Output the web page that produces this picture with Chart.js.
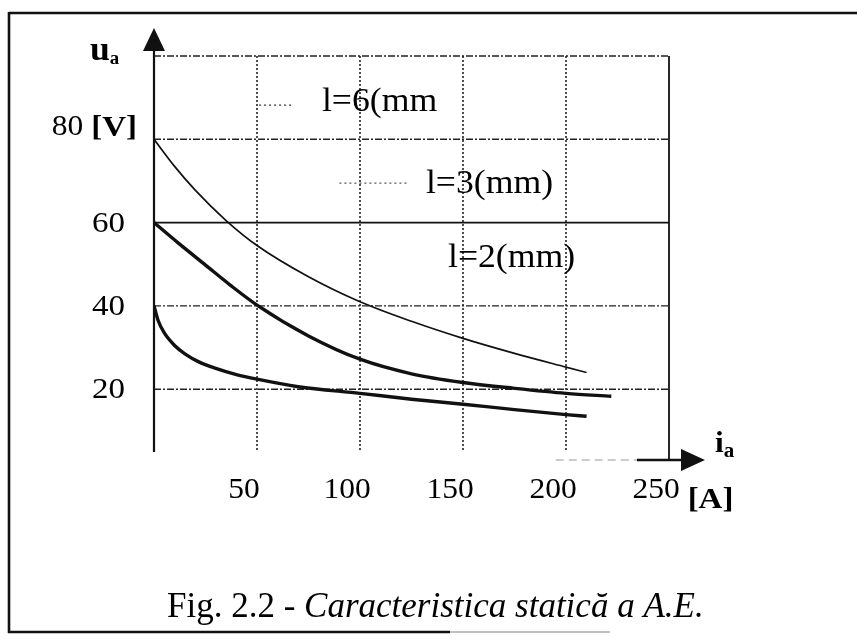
<!DOCTYPE html>
<html>
<head>
<meta charset="utf-8">
<script src="https://cdn.jsdelivr.net/npm/chart.js@4"></script>
<style>
  html, body { margin: 0; padding: 0; background: #fff; }
  canvas { display: block; }
</style>
</head>
<body>
<canvas id="staticChart" width="857" height="639"></canvas>
<script>
// arc current i_a [A] and arc voltage u_a [V] for each arc length
const current6 = [0, 10, 20, 35, 50, 75, 100, 125, 150, 175, 200, 210];
const voltage6 = [80, 73.5, 67.8, 60.5, 54.5, 47, 41, 36.3, 32.2, 28.6, 25.3, 24];

const current3 = [0, 12, 25, 37, 50, 75, 100, 125, 150, 175, 200, 222];
const voltage3 = [60, 55, 49.8, 45, 40.2, 32.8, 27.2, 23.7, 21.6, 20.2, 19, 18.3];

const current2 = [0, 2, 5, 10, 15, 22, 30, 40, 50, 70, 100, 125, 150, 175, 200, 210];
const voltage2 = [40, 36.5, 33.5, 30.5, 28.5, 26.5, 25, 23.5, 22.4, 20.6, 19, 17.6, 16.4, 15.1, 13.9, 13.5];

const seriesNames = ['l=6(mm', 'l=3(mm)', 'l=2(mm)'];

const xTicks = [50, 100, 150, 200, 250];
const yTicks = [20, 40, 60, 80, 100];
const yTickLabels = ['20', '40', '60', '80', ''];

const xUnit = '[A]';
const yUnit = '[V]';
const caption = 'Fig. 2.2 - ';
const captionItalic = 'Caracteristica statică a A.E.';

const SERIF = '"Liberation Serif", "Times New Roman", serif';

function points(xs, ys) {
    return xs.map((x, i) => ({ x: x, y: ys[i] }));
}

// text with a bit of horizontal stretch
function stretchText(ctx, s, x, y, font, align, sx) {
    ctx.save();
    ctx.font = font;
    const w = ctx.measureText(s).width * sx;
    let x0 = x;
    if (align === 'center') x0 = x - w / 2;
    if (align === 'right') x0 = x - w;
    ctx.translate(x0, y);
    ctx.scale(sx, 1);
    ctx.textAlign = 'left';
    ctx.textBaseline = 'alphabetic';
    ctx.fillStyle = '#000';
    ctx.fillText(s, 0, 0);
    ctx.restore();
    return w;
}

function line(ctx, x1, y1, x2, y2, width, dash, color) {
    ctx.save();
    ctx.beginPath();
    ctx.lineWidth = width;
    ctx.strokeStyle = color || '#111';
    ctx.setLineDash(dash || []);
    ctx.moveTo(x1, y1);
    ctx.lineTo(x2, y2);
    ctx.stroke();
    ctx.restore();
}

const paper = {
    id: 'paper',
    beforeDraw(chart) {
        const ctx = chart.ctx;
        ctx.save();
        ctx.fillStyle = '#fff';
        ctx.fillRect(0, 0, chart.width, chart.height);
        ctx.restore();
    },
    beforeDatasetsDraw(chart) {
        const ctx = chart.ctx;
        const xs = chart.scales.x, ys = chart.scales.y;
        const a = chart.chartArea;
        const bottom = a.bottom - 8;

        // horizontal grid: dash-dot, the 60 V line solid
        yTicks.forEach(v => {
            const py = ys.getPixelForValue(v);
            if (v === 60) line(ctx, a.left, py, a.right, py, 1.8, [], '#111');
            else line(ctx, a.left, py, a.right, py, 1.4, [7, 2, 2, 2], '#222');
        });

        // vertical grid: dotted, last one is the solid frame of the plot
        xTicks.forEach(v => {
            const px = xs.getPixelForValue(v);
            if (v === xs.max) line(ctx, px, ys.getPixelForValue(100), px, a.bottom, 1.8, [], '#111');
            else line(ctx, px, ys.getPixelForValue(100), px, bottom, 1.6, [2, 2], '#222');
        });

        // y axis with arrow
        line(ctx, a.left, 40, a.left, bottom, 2.2, [], '#111');
        ctx.save();
        ctx.fillStyle = '#111';
        ctx.beginPath();
        ctx.moveTo(a.left, 28);
        ctx.lineTo(a.left - 11, 51);
        ctx.lineTo(a.left + 11, 51);
        ctx.closePath();
        ctx.fill();
        ctx.restore();

        // x axis: faint dashed part, then solid up to the arrow
        const tip = a.right + 36;
        line(ctx, xs.getPixelForValue(195), a.bottom, a.right - 20, a.bottom, 1.2, [8, 5], '#999');
        line(ctx, a.right - 32, a.bottom, tip - 16, a.bottom, 2.6, [], '#111');
        ctx.save();
        ctx.fillStyle = '#111';
        ctx.beginPath();
        ctx.moveTo(tip, a.bottom);
        ctx.lineTo(tip - 24, a.bottom - 11);
        ctx.lineTo(tip - 24, a.bottom + 11);
        ctx.closePath();
        ctx.fill();
        ctx.restore();
    },
    afterDraw(chart) {
        const ctx = chart.ctx;
        const xs = chart.scales.x, ys = chart.scales.y;
        const a = chart.chartArea;

        // outer frame, open on the right
        line(ctx, 9, 13, 857, 13, 2.6, [], '#111');
        line(ctx, 9, 12, 9, 633, 2.6, [], '#111');
        line(ctx, 8, 632, 450, 632, 2.4, [], '#111');
        line(ctx, 450, 632, 610, 632, 1.6, [], '#aaa');

        // y tick labels, the top one carries the unit
        yTicks.forEach((v, i) => {
            const s = yTickLabels[i];
            if (!s) return;
            const py = ys.getPixelForValue(v);
            if (v === 80) {
                const uw = stretchText(ctx, yUnit, a.left - 17, py - 3, 'bold 30px ' + SERIF, 'right', 1.1);
                stretchText(ctx, s, a.left - 17 - uw - 8, py - 4, '30px ' + SERIF, 'right', 1.05);
            } else {
                stretchText(ctx, s, a.left - 29, py + 9, '30px ' + SERIF, 'right', 1.1);
            }
        });

        // x tick labels, the last one carries the unit
        xTicks.forEach(v => {
            const px = xs.getPixelForValue(v) - 13;
            const w = stretchText(ctx, String(v), px, a.bottom + 38, '30px ' + SERIF, 'center', 1.05);
            if (v === xs.max) {
                stretchText(ctx, xUnit, px + w / 2 + 8, a.bottom + 48, 'bold 30px ' + SERIF, 'left', 1.1);
            }
        });

        // axis names u_a and i_a
        const uw = stretchText(ctx, 'u', a.left - 64, 60, 'bold 34px ' + SERIF, 'left', 1.05);
        stretchText(ctx, 'a', a.left - 64 + uw, 64, 'bold 18px ' + SERIF, 'left', 1.05);
        const ix = a.right + 46;
        const iw = stretchText(ctx, 'i', ix, a.bottom - 8, 'bold 30px ' + SERIF, 'left', 1.05);
        stretchText(ctx, 'a', ix + iw, a.bottom - 3, 'bold 20px ' + SERIF, 'left', 1.05);

        // curve labels with their dotted leaders
        const labelAt = [[81.5, 86.8], [132, 67.1], [142.7, 49.3]];
        labelAt.forEach((p, i) => {
            stretchText(ctx, seriesNames[i], xs.getPixelForValue(p[0]), ys.getPixelForValue(p[1]),
                '34px ' + SERIF, 'left', 1.05);
        });
        line(ctx, xs.getPixelForValue(51), ys.getPixelForValue(88.2), xs.getPixelForValue(67), ys.getPixelForValue(88.2), 1.2, [2, 3], '#333');
        line(ctx, xs.getPixelForValue(90), ys.getPixelForValue(69.5), xs.getPixelForValue(123), ys.getPixelForValue(69.5), 1.2, [2, 3], '#555');

        // caption
        const cw = stretchText(ctx, caption, 167, 617, '35px ' + SERIF, 'left', 1.0);
        stretchText(ctx, captionItalic, 167 + cw, 617, 'italic 35px ' + SERIF, 'left', 1.0);
    }
};

new Chart(document.getElementById('staticChart'), {
    type: 'line',
    data: {
        datasets: [
            {
                label: seriesNames[0],
                data: points(current6, voltage6),
                borderColor: '#111',
                borderWidth: 1.7
            },
            {
                label: seriesNames[1],
                data: points(current3, voltage3),
                borderColor: '#111',
                borderWidth: 3.4
            },
            {
                label: seriesNames[2],
                data: points(current2, voltage2),
                borderColor: '#111',
                borderWidth: 3.4
            }
        ]
    },
    options: {
        responsive: false,
        animation: false,
        devicePixelRatio: 1,
        layout: {
            padding: { left: 154, right: 188, top: 56, bottom: 179 }
        },
        elements: {
            point: { radius: 0 },
            line: { cubicInterpolationMode: 'monotone', fill: false }
        },
        scales: {
            x: { type: 'linear', min: 0, max: 250, display: false },
            y: { type: 'linear', min: 3, max: 100, display: false }
        },
        plugins: {
            legend: { display: false },
            tooltip: { enabled: false }
        }
    },
    plugins: [paper]
});
</script>
</body>
</html>
